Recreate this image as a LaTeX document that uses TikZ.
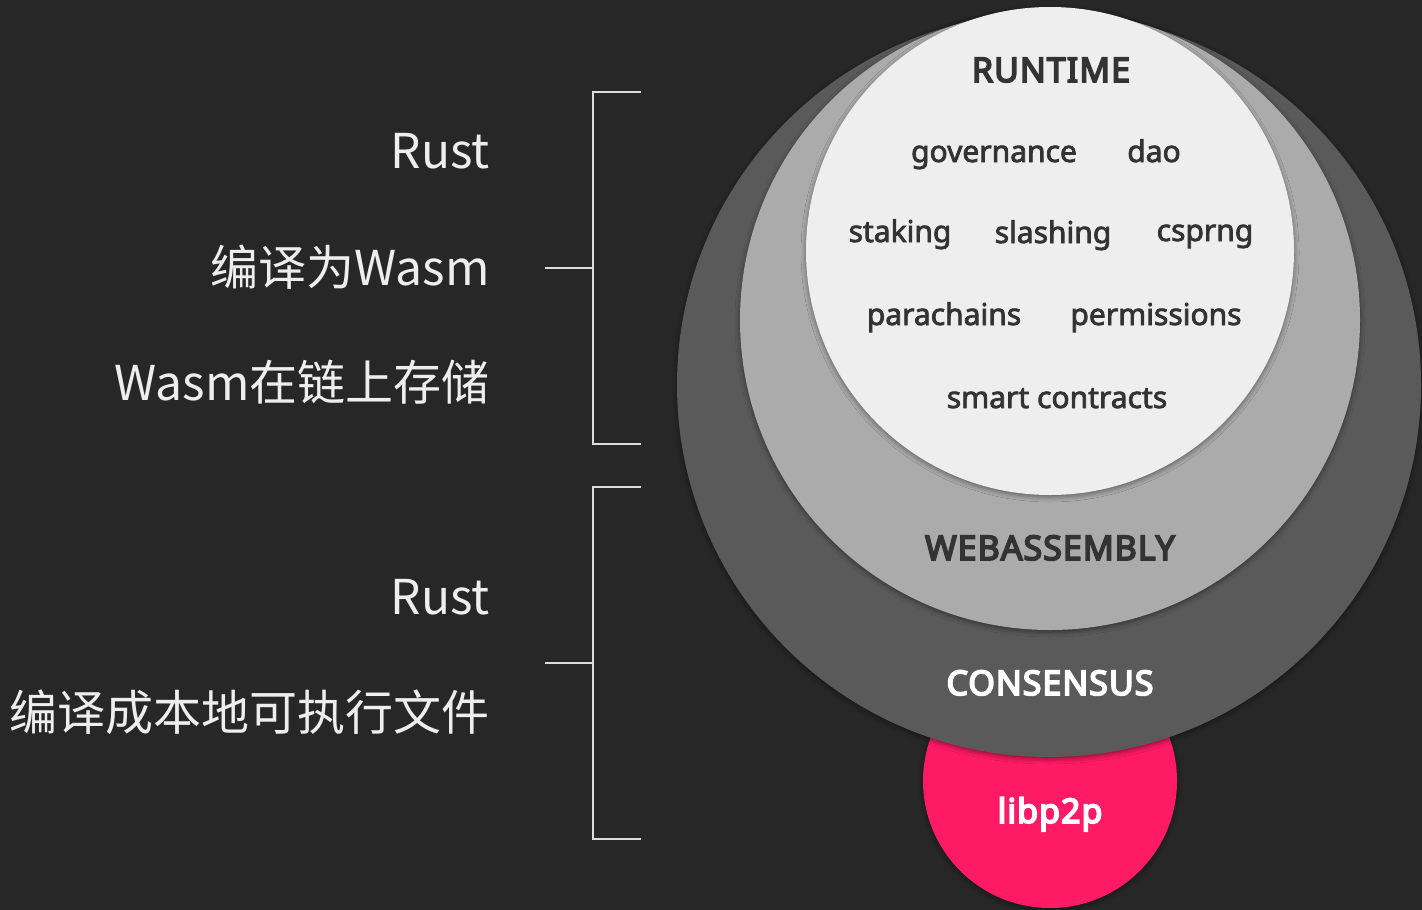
\documentclass[tikz,border=0pt]{standalone}
\usepackage{fontspec}
\setmainfont{Noto Sans}
\newfontfamily\medfont{Noto Sans}[FakeBold=2.5]
\newfontfamily\boldfont{Noto Sans}[FakeBold=5, LetterSpace=3]
\newfontfamily\cjkfont{Noto Sans CJK SC}
\usetikzlibrary{shadows.blur}
\definecolor{bg}{HTML}{272727}
\definecolor{cons}{HTML}{5A5A5A}
\definecolor{wasm}{HTML}{ABABAB}
\definecolor{rt}{HTML}{EEEEEE}
\definecolor{pink}{HTML}{FF1A66}
\definecolor{dk}{HTML}{333333}
\definecolor{lt}{HTML}{EEEEEE}
\definecolor{brk}{HTML}{DDDDDD}
\tikzset{
  disk/.style={circle, inner sep=0pt, draw=none,
    blur shadow={shadow xshift=0pt, shadow yshift=-2pt, shadow blur radius=5pt, shadow opacity=45}},
  word/.style={anchor=base, text=dk, inner sep=0pt, font=\medfont\fontsize{30}{30}\selectfont},
  title/.style={anchor=base, text=dk, inner sep=0pt, font=\boldfont\fontsize{34}{34}\selectfont},
  lefttext/.style={anchor=base east, text=lt, inner sep=0pt, font=\cjkfont\fontsize{48}{48}\selectfont},
  bracket/.style={draw=brk, line width=2pt}
}
\begin{document}
\begin{tikzpicture}[x=1pt, y=-1pt]
\useasboundingbox (0,0) rectangle (1422,910);
\fill[bg] (0,0) rectangle (1422,910);
% circles
\node[disk, fill=pink, minimum size=254pt] (p2p) at (1050,781) {};
\node[disk, fill=cons, minimum size=744pt] (consensus) at (1049,385) {};
\node[disk, fill=wasm, minimum size=620pt] (webassembly) at (1050,320) {};
\node[disk, fill=rt, minimum size=488pt] (runtime) at (1050,251) {};
% circle labels
\node[title] (tRuntime) at (1051,82) {RUNTIME};
\node[word] (governance) at (994,162) {governance};
\node[word] (dao) at (1154,162) {dao};
\node[word] (staking) at (900,242) {staking};
\node[word] (slashing) at (1053,243) {slashing};
\node[word] (csprng) at (1205,241) {csprng};
\node[word] (parachains) at (944,325) {parachains};
\node[word] (permissions) at (1156,325) {permissions};
\node[word] (smart) at (1057,408) {smart contracts};
\node[title] (tWasm) at (1050,560) {WEBASSEMBLY};
\node[title, text=white] (tCons) at (1050,695) {CONSENSUS};
\node[title, text=white] (tP2p) at (1050,823) {libp2p};
% left texts
\node[lefttext] (rust1) at (490,168) {Rust};
\node[lefttext] (compWasm) at (490,285) {编译为Wasm};
\node[lefttext] (store) at (490,400) {Wasm在链上存储};
\node[lefttext] (rust2) at (490,614) {Rust};
\node[lefttext] (native) at (490,730) {编译成本地可执行文件};
% brackets
\coordinate (b1t) at (641,92);
\coordinate (b1b) at (641,444);
\coordinate (b1m) at (545,268);
\coordinate (b2t) at (641,487);
\coordinate (b2b) at (641,839);
\coordinate (b2m) at (545,663);
\draw[bracket] (b1t) -- (593,92) -- (593,444) -- (b1b);
\draw[bracket] (b1m) -- (593,268);
\draw[bracket] (b2t) -- (593,487) -- (593,839) -- (b2b);
\draw[bracket] (b2m) -- (593,663);
\end{tikzpicture}
\end{document}
